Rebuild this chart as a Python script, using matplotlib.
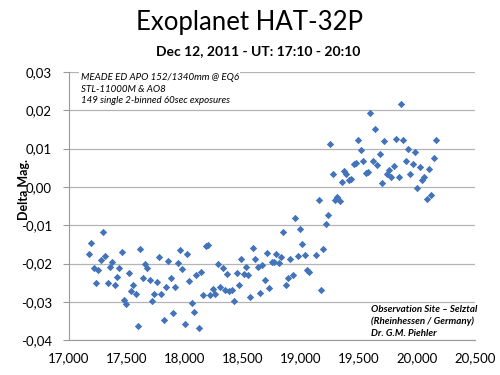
import matplotlib
matplotlib.use("Agg")
import matplotlib.pyplot as plt
from matplotlib.ticker import FuncFormatter, MultipleLocator

plt.rcParams['font.family'] = ['Lato', 'DejaVu Sans']

# UT (hours) of each exposure
ut = [17.177, 17.197, 17.217, 17.234, 17.257, 17.278, 17.297, 17.317, 17.338, 17.358,
      17.378, 17.398, 17.418, 17.438, 17.459, 17.476, 17.496, 17.519, 17.539, 17.559,
      17.579, 17.599, 17.619, 17.640, 17.659, 17.679, 17.700, 17.720, 17.740, 17.760,
      17.780, 17.800, 17.821, 17.841, 17.860, 17.881, 17.901, 17.921, 17.941, 17.961,
      17.981, 18.002, 18.022, 18.041, 18.065, 18.082, 18.102, 18.125, 18.142, 18.162,
      18.183, 18.203, 18.222, 18.246, 18.263, 18.283, 18.306, 18.326, 18.347, 18.366,
      18.386, 18.407, 18.424, 18.447, 18.467, 18.484, 18.507, 18.528, 18.547, 18.567,
      18.588, 18.608, 18.628, 18.648, 18.668, 18.688, 18.709, 18.728, 18.748, 18.769,
      18.789, 18.809, 18.829, 18.849, 18.869, 18.890, 18.910, 18.929, 18.953, 18.972,
      18.993, 19.013, 19.033, 19.053, 19.073, 19.134, 19.153, 19.174, 19.194, 19.214,
      19.234, 19.254, 19.274, 19.295, 19.315, 19.334, 19.355, 19.375, 19.392, 19.416,
      19.433, 19.455, 19.476, 19.496, 19.516, 19.539, 19.559, 19.579, 19.599, 19.619,
      19.640, 19.660, 19.679, 19.700, 19.720, 19.740, 19.760, 19.780, 19.800, 19.823,
      19.843, 19.864, 19.884, 19.903, 19.924, 19.944, 19.964, 19.984, 20.004, 20.024,
      20.045, 20.065, 20.084, 20.105, 20.125, 20.145, 20.168]

# differential magnitude
dmag = [-0.0176, -0.0146, -0.0212, -0.0250, -0.0218, -0.0190, -0.0118, -0.0181, -0.0251, -0.0208,
        -0.0195, -0.0256, -0.0236, -0.0212, -0.0169, -0.0294, -0.0305, -0.0226, -0.0272, -0.0256,
        -0.0279, -0.0363, -0.0163, -0.0239, -0.0202, -0.0211, -0.0243, -0.0299, -0.0279, -0.0247,
        -0.0182, -0.0279, -0.0348, -0.0262, -0.0194, -0.0239, -0.0330, -0.0261, -0.0198, -0.0165,
        -0.0215, -0.0357, -0.0176, -0.0245, -0.0304, -0.0326, -0.0230, -0.0368, -0.0221, -0.0282,
        -0.0155, -0.0152, -0.0282, -0.0267, -0.0279, -0.0200, -0.0260, -0.0212, -0.0269, -0.0228,
        -0.0273, -0.0269, -0.0299, -0.0225, -0.0256, -0.0187, -0.0227, -0.0210, -0.0230, -0.0288,
        -0.0159, -0.0189, -0.0210, -0.0278, -0.0204, -0.0243, -0.0172, -0.0264, -0.0195, -0.0196,
        -0.0174, -0.0199, -0.0182, -0.0117, -0.0257, -0.0239, -0.0187, -0.0230, -0.0081, -0.0181,
        -0.0111, -0.0149, -0.0179, -0.0217, -0.0222, -0.0179, -0.0034, -0.0268, -0.0163, -0.0098,
        -0.0073, 0.0113, 0.0033, -0.0034, -0.0027, -0.0038, 0.0013, 0.0042, 0.0035, 0.0017,
        0.0020, 0.0061, 0.0063, 0.0122, 0.0096, 0.0067, 0.0037, 0.0040, 0.0193, 0.0067,
        0.0152, 0.0057, 0.0087, 0.0011, 0.0119, 0.0035, 0.0044, 0.0026, 0.0054, 0.0124,
        0.0026, 0.0217, 0.0122, 0.0067, 0.0098, 0.0035, 0.0060, 0.0090, -0.0002, 0.0052,
        0.0018, 0.0027, -0.0031, 0.0047, -0.0022, 0.0075, 0.0122]

title = "Exoplanet HAT-32P"
subtitle = "Dec 12, 2011 - UT: 17:10 - 20:10"
setup_note = "MEADE ED APO 152/1340mm @ EQ6\nSTL-11000M & AO8\n149 single 2-binned 60sec exposures"
site_note = "Observation Site \u2013 Selztal\n(Rheinhessen / Germany)\nDr. G.M. Piehler"

fig = plt.figure(figsize=(5, 3.75), dpi=100)
ax = fig.add_axes([0.137, 0.093, 0.813, 0.715])

ax.scatter(ut, dmag, marker='D', s=14, color='#4373B9', zorder=3, linewidths=0)

ax.set_xlim(17.0, 20.5)
ax.set_ylim(-0.04, 0.03)
ax.xaxis.set_major_locator(MultipleLocator(0.5))
ax.yaxis.set_major_locator(MultipleLocator(0.01))
ax.xaxis.set_major_formatter(FuncFormatter(lambda v, p: f"{v:.3f}".replace('.', ',')))
ax.yaxis.set_major_formatter(FuncFormatter(lambda v, p: f"{v:.2f}".replace('.', ',').replace('-0,00', '0,00')))

ax.grid(axis='y', color='#b4b4b4', linewidth=0.9, zorder=0)
for s in ['top', 'right']:
    ax.spines[s].set_visible(False)
for s in ['left', 'bottom']:
    ax.spines[s].set_color('#9a9a9a')
ax.tick_params(axis='y', length=4, color='#9a9a9a', labelsize=9.5, pad=8)
ax.tick_params(axis='x', length=0, labelsize=9.5, pad=9)

ax.set_ylabel("Delta Mag.", fontsize=9, fontweight='bold')
ax.yaxis.set_label_coords(-0.095, 0.56)

fig.text(0.5, 0.94, title, ha='center', va='center', fontsize=18.5)
fig.text(0.517, 0.865, subtitle, ha='center', va='center', fontsize=10, fontweight='bold')

ax.text(0.03, 0.995, setup_note, transform=ax.transAxes, ha='left', va='top',
        fontsize=7, fontstyle='italic', linespacing=1.35,
        bbox=dict(facecolor='white', edgecolor='none', pad=1), zorder=4)
ax.text(0.745, 0.13, site_note, transform=ax.transAxes, ha='left', va='top',
        fontsize=7, fontstyle='italic', fontweight='bold', linespacing=1.35,
        bbox=dict(facecolor='white', edgecolor='none', pad=1), zorder=4)

fig.savefig("out.png", dpi=100)
